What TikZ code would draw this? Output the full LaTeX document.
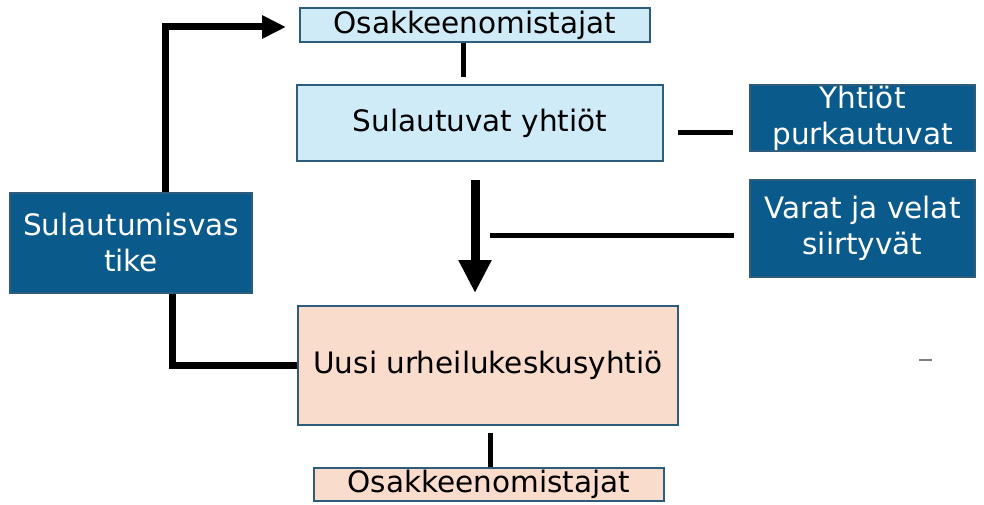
\documentclass[tikz,border=0pt]{standalone}
\usepackage{fontspec}
\setmainfont{DejaVu Sans}
\usetikzlibrary{arrows.meta, positioning, calc}
\definecolor{paleblue}{HTML}{CFEBF8}
\definecolor{deepblue}{HTML}{0B5A8C}
\definecolor{peach}{HTML}{F9DCCC}
\definecolor{edgeblue}{HTML}{2D5C7C}
\tikzset {
    box/.style = {
        draw = edgeblue,
        line width = 2pt,
        shape = rectangle,
        align = center,
        inner sep = 0pt,
        font = \fontsize{29.5}{36}\selectfont
    },
    lightbox/.style = {
        box,
        fill = paleblue
    },
    darkbox/.style = {
        box,
        fill = deepblue,
        text = white
    },
    peachbox/.style = {
        box,
        fill = peach
    },
    link/.style = {
        draw,
        line width = 5pt
    },
    thicklink/.style = {
        draw,
        line width = 7pt
    },
    bigarrow/.style = {
        draw,
        line width = 9pt,
        -{Triangle[width=31pt, length=33pt]}
    }
}
\begin{document}
\begin{tikzpicture}[x=1pt, y=-1pt]
        \useasboundingbox (0, 0) rectangle (984, 505);

        % Upper part : owners, merging companies, the two notes on the right
        \node [lightbox, minimum width=350pt, minimum height=34pt] at (475, 25)    (owners1)  {Osakkeenomistajat};
        \node [lightbox, minimum width=366pt, minimum height=76pt] at (480, 123)   (merging)  {Sulautuvat yhtiöt};
        \node [darkbox, minimum width=225pt, minimum height=66pt]  at (862.5, 118) (dissolve) {Yhtiöt\\purkautuvat};
        \node [darkbox, minimum width=225pt, minimum height=97pt]  at (862.5, 228.5) (assets) {Varat ja velat\\siirtyvät};

        % Left : merger consideration
        \node [darkbox, minimum width=242pt, minimum height=100pt] at (131, 243)   (consid)   {Sulautumisvas\\tike};

        % Lower part : new company and its owners
        \node [peachbox, minimum width=380pt, minimum height=119pt] at (488, 365.5) (newco)   {Uusi urheilukeskusyhtiö};
        \node [peachbox, minimum width=350pt, minimum height=33pt]  at (489, 484.5) (owners2) {Osakkeenomistajat};

        % Free ends of the loose lines
        \coordinate (dissolveend) at (678, 132.5);
        \coordinate (mergestart)  at (475, 180);
        \coordinate (mergeend)    at (475, 293);
        \coordinate (assetsend)   at (490, 235);
        \coordinate (consturn)    at (165, 27);

        \path [link] ([xshift=-12pt]owners1.south) -- ([xshift=-12pt, yshift=7pt]owners1.south |- merging.north);
        \path [link] (dissolveend) -- ([xshift=-16pt]dissolveend -| dissolve.west);
        \path [bigarrow] (mergestart) -- (mergeend);
        \path [link] (assetsend) -- ([xshift=-15pt]assetsend -| assets.west);

        \path [thicklink, -{Triangle[width=22pt, length=24pt]}] ([xshift=34pt]consid.north) -- (consturn) -- ([xshift=-13pt]consturn -| owners1.west);
        \path [thicklink] ([xshift=41pt]consid.south) |- (newco.west);

        \path [link] ([xshift=2pt, yshift=-7pt]newco.south) -- ([xshift=1pt]owners2.north);

        % small dash on the right
        \draw [gray, line width=2pt] (919, 360) -- (932, 360);
    \end{tikzpicture}
\end{document}
